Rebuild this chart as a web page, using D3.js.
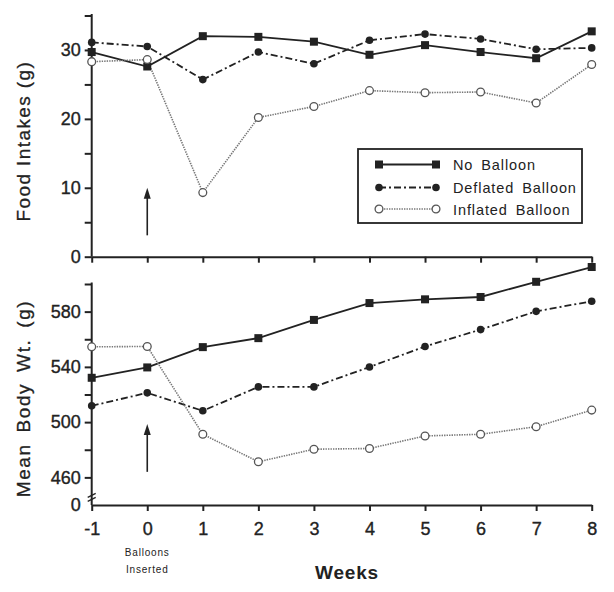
<!DOCTYPE html>
<html>
<head>
<meta charset="utf-8">
<script src="https://cdn.jsdelivr.net/npm/d3@7"></script>
<style>
  html, body { margin: 0; padding: 0; background: #fff; }
  svg { display: block; }
  text { font-family: "Liberation Sans", Arial, sans-serif; fill: #222; }
</style>
</head>
<body>
<div id="chart"></div>
<script>
// values
const weeks = [-1, 0, 1, 2, 3, 4, 5, 6, 7, 8];
const seriesNames = ['No Balloon', 'Deflated Balloon', 'Inflated Balloon'];

const intakeNoBalloon = [29.7, 27.6, 32.0, 31.9, 31.2, 29.3, 30.7, 29.7, 28.8, 32.7];
const intakeDeflated  = [31.1, 30.5, 25.7, 29.7, 28.0, 31.4, 32.3, 31.6, 30.1, 30.3];
const intakeInflated  = [28.3, 28.6, 9.3, 20.2, 21.8, 24.1, 23.8, 23.9, 22.3, 27.9];

const weightNoBalloon = [532.1, 539.6, 554.3, 560.8, 574.0, 586.2, 588.9, 590.6, 601.6, 612.3];
const weightDeflated  = [511.8, 521.2, 508.2, 525.5, 525.5, 539.9, 554.8, 567.0, 580.2, 587.5];
const weightInflated  = [554.5, 554.8, 491.2, 471.3, 480.4, 480.9, 490.0, 491.2, 496.7, 508.7];

const intakeTicks = [0, 5, 10, 15, 20, 25, 30, 35];
const intakeTickLabels = [0, 10, 20, 30];
const weightTicks = [440, 460, 480, 500, 520, 540, 560, 580, 600];
const weightTickLabels = [460, 500, 540, 580];
const weightBreakLabel = '0'; // axis starts at a broken 0

// "balloons inserted" arrows
const arrowWeek = 0;
const intakeArrow = [3.1, 10.0];
const weightArrow = [464, 498.6];

const W = 614, H = 592;
const ink = '#222';

const svg = d3.select('#chart').append('svg')
  .attr('width', W)
  .attr('height', H);

const x = d3.scaleLinear().domain([-1, 8]).range([91.7, 591.7]);
const yTop = d3.scaleLinear().domain([0, 35]).range([256.7, 15.5]);
const yBot = d3.scaleLinear().domain([440, 600]).range([505, 284]);

const styles = [
  { dash: null, width: 1.8, color: ink, marker: 'square' },
  { dash: '7,3,2,3', width: 1.8, color: ink, marker: 'dot' },
  { dash: '1.4,1.1', width: 1.6, color: '#777', marker: 'ring' },
];

function drawMarker(g, kind, cx, cy) {
  if (kind === 'square') {
    g.append('rect')
      .attr('x', cx - 4).attr('y', cy - 4)
      .attr('width', 8).attr('height', 8)
      .attr('fill', ink);
  } else if (kind === 'dot') {
    g.append('circle')
      .attr('cx', cx).attr('cy', cy).attr('r', 3.8)
      .attr('fill', ink);
  } else {
    g.append('circle')
      .attr('cx', cx).attr('cy', cy).attr('r', 3.9)
      .attr('fill', '#fff')
      .attr('stroke', '#555')
      .attr('stroke-width', 1.3);
  }
}

function drawSeries(y, seriesList) {
  seriesList.forEach((vals, i) => {
    const st = styles[i];
    const pts = weeks.map((w, j) => ({ w, v: vals[j] }));
    const line = d3.line().x(d => x(d.w)).y(d => y(d.v));
    svg.append('path')
      .datum(pts)
      .attr('fill', 'none')
      .attr('stroke', st.color)
      .attr('stroke-width', st.width)
      .attr('stroke-dasharray', st.dash)
      .attr('d', line);
  });
  // markers on top
  seriesList.forEach((vals, i) => {
    const g = svg.append('g');
    weeks.forEach((w, j) => drawMarker(g, styles[i].marker, x(w), y(vals[j])));
  });
}

function styleAxis(g) {
  g.selectAll('path, line').attr('stroke', ink).attr('stroke-width', 2);
  g.selectAll('text')
    .attr('fill', ink)
    .style('font-size', '18px')
    .style('stroke', ink)
    .style('stroke-width', '0.35px');
}

function drawArrow(y, span) {
  const ax = x(arrowWeek);
  svg.append('line')
    .attr('x1', ax).attr('x2', ax)
    .attr('y1', y(span[0])).attr('y2', y(span[1]) + 8)
    .attr('stroke', ink).attr('stroke-width', 1.6);
  const tip = y(span[1]);
  svg.append('path')
    .attr('d', `M${ax},${tip} L${ax - 3.5},${tip + 11} L${ax + 3.5},${tip + 11} Z`)
    .attr('fill', ink);
}

// ---- top panel: food intake ----
svg.append('g')
  .attr('transform', `translate(${x(-1)},0)`)
  .call(d3.axisLeft(yTop).tickValues(intakeTicks).tickSize(7).tickSizeOuter(0).tickPadding(4)
    .tickFormat(d => intakeTickLabels.includes(d) ? d : ''))
  .call(styleAxis)
  .call(g => g.select('.domain').attr('d', `M0,${yTop(0)}V${yTop(35) - 1.5}`));

svg.append('g')
  .attr('transform', `translate(0,${yTop(0)})`)
  .call(d3.axisBottom(x).tickValues(weeks).tickSize(6).tickSizeOuter(0).tickFormat(''))
  .call(styleAxis);

drawSeries(yTop, [intakeNoBalloon, intakeDeflated, intakeInflated]);
drawArrow(yTop, intakeArrow);

svg.append('text')
  .attr('transform', `translate(30,${(yTop(0) + yTop(35)) / 2 + 5}) rotate(-90)`)
  .attr('text-anchor', 'middle')
  .style('font-size', '19px')
  .style('letter-spacing', '1.4px')
  .style('stroke', ink).style('stroke-width', '0.3px')
  .text('Food Intakes (g)');

// legend
const legend = svg.append('g').attr('transform', 'translate(358,149)');
legend.append('rect')
  .attr('width', 224).attr('height', 74)
  .attr('fill', '#fff')
  .attr('stroke', ink).attr('stroke-width', 1.8);
const rowY = [15.5, 38.5, 60];
seriesNames.forEach((name, i) => {
  const st = styles[i];
  const g = legend.append('g').attr('transform', `translate(0,${rowY[i]})`);
  g.append('line')
    .attr('x1', 21).attr('x2', 78).attr('y1', 0).attr('y2', 0)
    .attr('stroke', st.color).attr('stroke-width', st.width)
    .attr('stroke-dasharray', st.dash);
  drawMarker(g, st.marker, 21, 0);
  drawMarker(g, st.marker, 78, 0);
  g.append('text')
    .attr('x', 95).attr('y', 5.5)
    .style('font-size', '14.5px')
    .style('letter-spacing', '0.9px')
    .style('word-spacing', '3px')
    .text(name);
});

// ---- bottom panel: body weight ----
svg.append('g')
  .attr('transform', `translate(${x(-1)},0)`)
  .call(d3.axisLeft(yBot).tickValues(weightTicks).tickSize(7).tickSizeOuter(0).tickPadding(4)
    .tickFormat(d => d === 440 ? weightBreakLabel : (weightTickLabels.includes(d) ? d : '')))
  .call(styleAxis)
  .call(g => g.select('.domain').attr('d', `M0,${yBot(440)}V${yBot(600) - 1.5}`))
  .call(g => g.selectAll('.tick').filter(d => d === 440).select('line').remove());

// axis break mark
[0, 4].forEach(off => {
  svg.append('line')
    .attr('x1', x(-1) - 4).attr('x2', x(-1) + 4)
    .attr('y1', yBot(447) + off + 2).attr('y2', yBot(447) + off - 2)
    .attr('stroke', ink).attr('stroke-width', 1.3);
});

svg.append('g')
  .attr('transform', `translate(0,${yBot(440)})`)
  .call(d3.axisBottom(x).tickValues(weeks).tickSize(6).tickSizeOuter(0).tickPadding(11)
    .tickFormat(d => d))
  .call(styleAxis);

drawSeries(yBot, [weightNoBalloon, weightDeflated, weightInflated]);
drawArrow(yBot, weightArrow);

svg.append('text')
  .attr('transform', `translate(30,${(yBot(440) + yBot(600)) / 2 + 4}) rotate(-90)`)
  .attr('text-anchor', 'middle')
  .style('font-size', '19px')
  .style('letter-spacing', '1.6px')
  .style('word-spacing', '4px')
  .style('stroke', ink).style('stroke-width', '0.3px')
  .text('Mean Body Wt. (g)');

svg.append('text')
  .attr('x', x(arrowWeek)).attr('y', 556)
  .attr('text-anchor', 'middle')
  .style('font-size', '10px')
  .style('letter-spacing', '0.8px')
  .text('Balloons');
svg.append('text')
  .attr('x', x(arrowWeek)).attr('y', 573)
  .attr('text-anchor', 'middle')
  .style('font-size', '10px')
  .style('letter-spacing', '0.8px')
  .text('Inserted');

svg.append('text')
  .attr('x', 347).attr('y', 579)
  .attr('text-anchor', 'middle')
  .style('font-size', '19px')
  .style('font-weight', 'bold')
  .style('letter-spacing', '0.8px')
  .text('Weeks');
</script>
</body>
</html>
